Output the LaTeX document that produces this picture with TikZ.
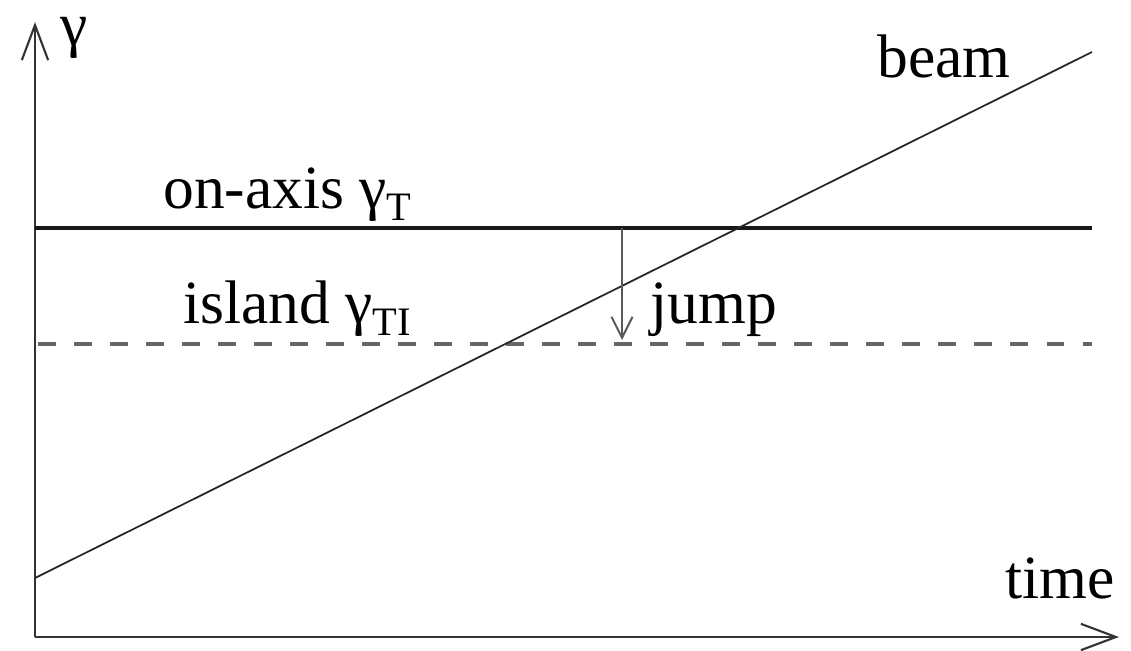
\documentclass[tikz,border=0pt]{standalone}
\usepackage{fontspec}
\setmainfont{Liberation Serif}
\usetikzlibrary{arrows.meta}
\newcommand{\gsub}[1]{γ\raisebox{-7pt}{\fontsize{23}{23}\selectfont #1}}
\begin{document}
\begin{tikzpicture}[x=0.02cm, y=-0.02cm, font=\fontsize{35}{40}\selectfont]
        \tikzset{
            axis/.style={-{Straight Barb[length=20pt, width=15pt, line width=1.2pt]}, draw=black!80, line width=1.3pt},
            level/.style={draw=black!90, line width=1.8pt},
            island/.style={draw=black!60, line width=1.8pt, dash pattern=on 10pt off 10.5pt},
            beamline/.style={draw=black!85, line width=1pt},
            jumparrow/.style={-{Straight Barb[length=12pt, width=12pt, line width=1.1pt]}, draw=black!65, line width=1.3pt},
            lbl/.style={inner sep=0pt, anchor=base west}
        }
        \useasboundingbox (0,0) rectangle (1131,650);

        \coordinate (origin) at (35,637);
        \coordinate (ytip) at (35,22);
        \coordinate (xtip) at (1119,637);
        \coordinate (onL) at (35,228);
        \coordinate (onR) at (1092,228);
        \coordinate (isL) at (38,344);
        \coordinate (isR) at (1092,344);
        \coordinate (beamS) at (35,578);
        \coordinate (beamE) at (1092,52);
        \coordinate (jmpTop) at (622,228);
        \coordinate (jmpBot) at (622,340);

        \draw[axis] (origin) -- (ytip);
        \draw[axis] (origin) -- (xtip);
        \draw[level] (onL) -- (onR);
        \draw[island] (isL) -- (isR);
        \draw[beamline] (beamS) -- (beamE);
        \draw[jumparrow] (jmpTop) -- (jmpBot);

        \node[lbl, text height=18pt] (gam) at (60,45) {γ};
        \node[lbl] (onaxis) at (163,208) {on-axis \gsub{T}};
        \node[lbl] (isl) at (183,323) {island \gsub{TI}};
        \node[lbl] (jump) at (650,323) {jump};
        \node[lbl] (beam) at (877,77) {beam};
        \node[lbl] (time) at (1005,598) {time};
    \end{tikzpicture}
\end{document}
